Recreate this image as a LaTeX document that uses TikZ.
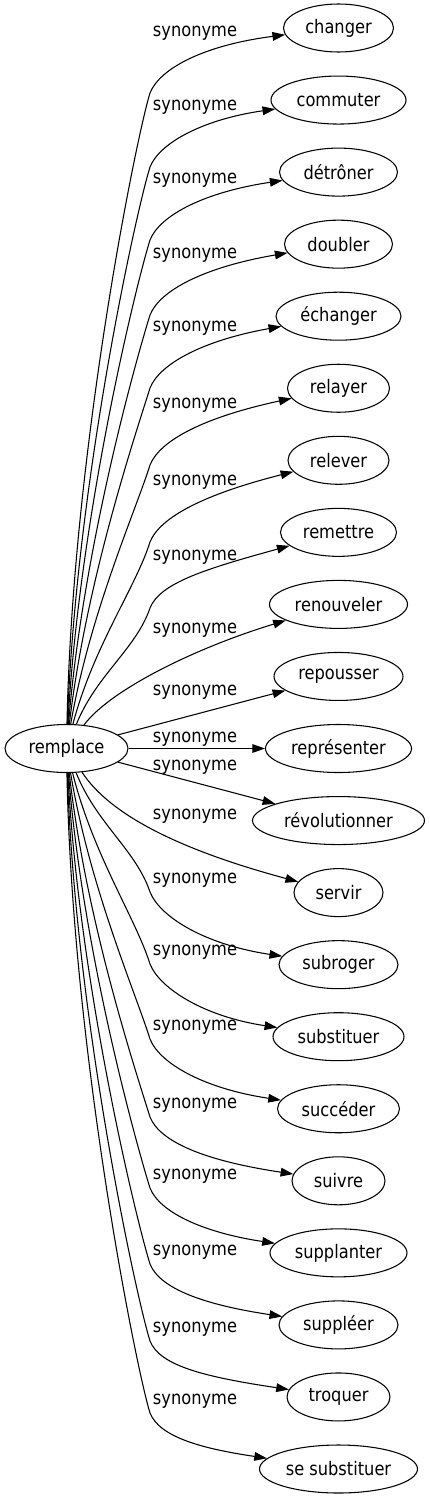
\documentclass[tikz,border=0pt]{standalone}
\usepackage{fontspec}
\setmainfont{DejaVu Sans}[FakeStretch=0.87]
\usetikzlibrary{shapes.geometric,arrows.meta}
\begin{document}
\begin{tikzpicture}[x=0.75pt,y=-0.75pt,
  font=\fontsize{14}{16}\selectfont,
  word/.style={draw, ellipse, line width=0.8pt, minimum height=36pt, inner sep=0pt},
  lbl/.style={inner sep=0pt},
  syn/.style={draw, line width=0.8pt, -{Triangle[length=9.5pt,width=6.5pt]}}]
\useasboundingbox (0,0) rectangle (429,1499);
% source
\node[word, minimum width=92.25pt] (src) at (66.5,748.5) {remplace};
% targets
\node[word, minimum width=82.5pt]  (n0)  at (338.5,28)      {changer};
\node[word, minimum width=101.25pt] (n1) at (338.5,100.05)  {commuter};
\node[word, minimum width=88.5pt]  (n2)  at (338.5,172.1)   {détrôner};
\node[word, minimum width=81pt]    (n3)  at (338.5,244.15)  {doubler};
\node[word, minimum width=93.75pt] (n4)  at (338.5,316.2)   {échanger};
\node[word, minimum width=76.5pt]  (n5)  at (338.5,388.25)  {relayer};
\node[word, minimum width=75.75pt] (n6)  at (338.5,460.3)   {relever};
\node[word, minimum width=87pt]    (n7)  at (338.5,532.35)  {remettre};
\node[word, minimum width=103.5pt] (n8)  at (338.5,604.4)   {renouveler};
\node[word, minimum width=96.75pt] (n9)  at (338.5,676.45)  {repousser};
\node[word, minimum width=109.5pt] (n10) at (338.5,748.5)   {représenter};
\node[word, minimum width=129pt]   (n11) at (338.5,820.55)  {révolutionner};
\node[word, minimum width=66.75pt] (n12) at (338.5,892.6)   {servir};
\node[word, minimum width=89.25pt] (n13) at (338.5,964.65)  {subroger};
\node[word, minimum width=98.25pt] (n14) at (338.5,1036.7)  {substituer};
\node[word, minimum width=91.5pt]  (n15) at (338.5,1108.75) {succéder};
\node[word, minimum width=69.75pt] (n16) at (338.5,1180.8)  {suivre};
\node[word, minimum width=102.75pt] (n17) at (338.5,1252.85) {supplanter};
\node[word, minimum width=89.25pt] (n18) at (338.5,1324.9)  {suppléer};
\node[word, minimum width=77.25pt] (n19) at (338.5,1396.95) {troquer};
\node[word, minimum width=118.5pt] (n20) at (338.5,1469)    {se substituer};
% labels
\node[lbl] (l0)  at (195,33)   {synonyme};
\node[lbl] (l1)  at (195,107)  {synonyme};
\node[lbl] (l2)  at (195,180)  {synonyme};
\node[lbl] (l3)  at (195,255)  {synonyme};
\node[lbl] (l4)  at (195,328)  {synonyme};
\node[lbl] (l5)  at (195,405)  {synonyme};
\node[lbl] (l6)  at (195,482)  {synonyme};
\node[lbl] (l7)  at (195,557)  {synonyme};
\node[lbl] (l8)  at (195,630)  {synonyme};
\node[lbl] (l9)  at (195,692)  {synonyme};
\node[lbl] (l10) at (195,739)  {synonyme};
\node[lbl] (l11) at (195,767)  {synonyme};
\node[lbl] (l12) at (195,816)  {synonyme};
\node[lbl] (l13) at (195,880)  {synonyme};
\node[lbl] (l14) at (195,952)  {synonyme};
\node[lbl] (l15) at (195,1027) {synonyme};
\node[lbl] (l16) at (195,1105) {synonyme};
\node[lbl] (l17) at (195,1176) {synonyme};
\node[lbl] (l18) at (195,1252) {synonyme};
\node[lbl] (l19) at (195,1329) {synonyme};
\node[lbl] (l20) at (195,1401) {synonyme};
% edges, upper
\draw[syn] (src) .. controls (72.4,453.2) and (136,138) .. (150,93) .. controls (160,68) and (205,45) .. (n0);
\draw[syn] (src) .. controls (75.8,485.1) and (136,212) .. (150,167) .. controls (160,142) and (205,119) .. (n1);
\draw[syn] (src) .. controls (79.3,516.4) and (136,285) .. (150,240) .. controls (160,215) and (205,192) .. (n2);
\draw[syn] (src) .. controls (82.8,548.7) and (136,360) .. (150,315) .. controls (160,290) and (205,267) .. (n3);
\draw[syn] (src) .. controls (86.2,580.1) and (136,433) .. (150,388) .. controls (160,363) and (205,340) .. (n4);
\draw[syn] (src) .. controls (89.8,613.2) and (136,510) .. (150,465) .. controls (160,440) and (205,417) .. (n5);
\draw[syn] (src) .. controls (93.4,646.3) and (136,587) .. (150,542) .. controls (160,517) and (205,494) .. (n6);
\draw[syn] (src) .. controls (96.5,674.7) and (136,649) .. (150,608) .. controls (160,583) and (205,569) .. (n7);
\draw[syn] (src) .. controls (110,690) and (195,648) .. (n8);
\draw[syn] (src) -- (n9);
\draw[syn] (src) -- (n10);
\draw[syn] (src) -- (n11);
\draw[syn] (src) .. controls (110,815) and (180,850) .. (n12);
% edges, lower
\draw[syn] (src) .. controls (96.4,823.6) and (136,850) .. (150,892) .. controls (160,917) and (205,944.65) .. (n13);
\draw[syn] (src) .. controls (93,854.6) and (136,919) .. (150,964) .. controls (160,989) and (205,1016.7) .. (n14);
\draw[syn] (src) .. controls (89.5,886.8) and (136,994) .. (150,1039) .. controls (160,1064) and (205,1088.75) .. (n15);
\draw[syn] (src) .. controls (85.8,920.4) and (136,1072) .. (150,1117) .. controls (160,1142) and (205,1160.8) .. (n16);
\draw[syn] (src) .. controls (82.5,950.9) and (136,1143) .. (150,1188) .. controls (160,1213) and (205,1232.85) .. (n17);
\draw[syn] (src) .. controls (78.9,983.6) and (136,1219) .. (150,1264) .. controls (160,1289) and (205,1304.9) .. (n18);
\draw[syn] (src) .. controls (75.3,1016.7) and (136,1296) .. (150,1341) .. controls (160,1366) and (205,1376.95) .. (n19);
\draw[syn] (src) .. controls (72,1047.6) and (136,1368) .. (150,1413) .. controls (160,1438) and (205,1449) .. (n20);
\end{tikzpicture}
\end{document}
